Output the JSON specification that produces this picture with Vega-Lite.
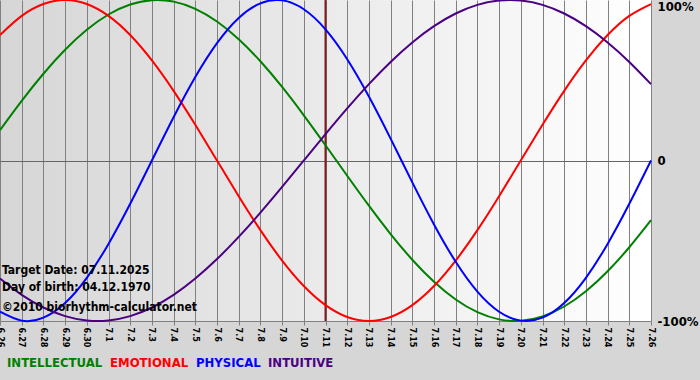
{
  "$schema": "https://vega.github.io/schema/vega-lite/v6.json",
  "width": 651,
  "height": 321,
  "autosize": "none",
  "padding": {"top": 0, "left": 0, "right": 49, "bottom": 59},
  "background": "#d6d6d6",
  "view": {
    "stroke": null,
    "fill": {"gradient": "linear", "x1": 0, "y1": 0, "x2": 1, "y2": 0, "stops": [{"offset": 0, "color": "#d6d6d6"}, {"offset": 1, "color": "#ffffff"}]}
  },
  "config": {
    "font": "DejaVu Sans Condensed",
    "axis": {"title": null}
  },
  "data": {"values": [
    {"day": "6.26", "INTELLECTUAL": 0.1893, "EMOTIONAL": 0.7818, "PHYSICAL": -0.9423, "INTUITIVE": -0.7357},
    {"day": "6.27", "INTELLECTUAL": 0.3717, "EMOTIONAL": 0.9010, "PHYSICAL": -0.9977, "INTUITIVE": -0.8372},
    {"day": "6.28", "INTELLECTUAL": 0.5406, "EMOTIONAL": 0.9749, "PHYSICAL": -0.9791, "INTUITIVE": -0.9158},
    {"day": "6.29", "INTELLECTUAL": 0.6901, "EMOTIONAL": 1.0, "PHYSICAL": -0.8879, "INTUITIVE": -0.9694},
    {"day": "6.30", "INTELLECTUAL": 0.8146, "EMOTIONAL": 0.9749, "PHYSICAL": -0.7308, "INTUITIVE": -0.9966},
    {"day": "7.1", "INTELLECTUAL": 0.9096, "EMOTIONAL": 0.9010, "PHYSICAL": -0.5196, "INTUITIVE": -0.9966},
    {"day": "7.2", "INTELLECTUAL": 0.9718, "EMOTIONAL": 0.7818, "PHYSICAL": -0.2698, "INTUITIVE": -0.9694},
    {"day": "7.3", "INTELLECTUAL": 0.9989, "EMOTIONAL": 0.6235, "PHYSICAL": 0.0, "INTUITIVE": -0.9158},
    {"day": "7.4", "INTELLECTUAL": 0.9898, "EMOTIONAL": 0.4339, "PHYSICAL": 0.2698, "INTUITIVE": -0.8372},
    {"day": "7.5", "INTELLECTUAL": 0.9450, "EMOTIONAL": 0.2225, "PHYSICAL": 0.5196, "INTUITIVE": -0.7357},
    {"day": "7.6", "INTELLECTUAL": 0.8660, "EMOTIONAL": 0.0, "PHYSICAL": 0.7308, "INTUITIVE": -0.6142},
    {"day": "7.7", "INTELLECTUAL": 0.7557, "EMOTIONAL": -0.2225, "PHYSICAL": 0.8879, "INTUITIVE": -0.4759},
    {"day": "7.8", "INTELLECTUAL": 0.6182, "EMOTIONAL": -0.4339, "PHYSICAL": 0.9791, "INTUITIVE": -0.3247},
    {"day": "7.9", "INTELLECTUAL": 0.4582, "EMOTIONAL": -0.6235, "PHYSICAL": 0.9977, "INTUITIVE": -0.1646},
    {"day": "7.10", "INTELLECTUAL": 0.2817, "EMOTIONAL": -0.7818, "PHYSICAL": 0.9423, "INTUITIVE": 0.0},
    {"day": "7.11", "INTELLECTUAL": 0.0951, "EMOTIONAL": -0.9010, "PHYSICAL": 0.8170, "INTUITIVE": 0.1646},
    {"day": "7.12", "INTELLECTUAL": -0.0951, "EMOTIONAL": -0.9749, "PHYSICAL": 0.6311, "INTUITIVE": 0.3247},
    {"day": "7.13", "INTELLECTUAL": -0.2817, "EMOTIONAL": -1.0, "PHYSICAL": 0.3984, "INTUITIVE": 0.4759},
    {"day": "7.14", "INTELLECTUAL": -0.4582, "EMOTIONAL": -0.9749, "PHYSICAL": 0.1362, "INTUITIVE": 0.6142},
    {"day": "7.15", "INTELLECTUAL": -0.6182, "EMOTIONAL": -0.9010, "PHYSICAL": -0.1362, "INTUITIVE": 0.7357},
    {"day": "7.16", "INTELLECTUAL": -0.7557, "EMOTIONAL": -0.7818, "PHYSICAL": -0.3984, "INTUITIVE": 0.8372},
    {"day": "7.17", "INTELLECTUAL": -0.8660, "EMOTIONAL": -0.6235, "PHYSICAL": -0.6311, "INTUITIVE": 0.9158},
    {"day": "7.18", "INTELLECTUAL": -0.9450, "EMOTIONAL": -0.4339, "PHYSICAL": -0.8170, "INTUITIVE": 0.9694},
    {"day": "7.19", "INTELLECTUAL": -0.9898, "EMOTIONAL": -0.2225, "PHYSICAL": -0.9423, "INTUITIVE": 0.9966},
    {"day": "7.20", "INTELLECTUAL": -0.9989, "EMOTIONAL": 0.0, "PHYSICAL": -0.9977, "INTUITIVE": 0.9966},
    {"day": "7.21", "INTELLECTUAL": -0.9718, "EMOTIONAL": 0.2225, "PHYSICAL": -0.9791, "INTUITIVE": 0.9694},
    {"day": "7.22", "INTELLECTUAL": -0.9096, "EMOTIONAL": 0.4339, "PHYSICAL": -0.8879, "INTUITIVE": 0.9158},
    {"day": "7.23", "INTELLECTUAL": -0.8146, "EMOTIONAL": 0.6235, "PHYSICAL": -0.7308, "INTUITIVE": 0.8372},
    {"day": "7.24", "INTELLECTUAL": -0.6901, "EMOTIONAL": 0.7818, "PHYSICAL": -0.5196, "INTUITIVE": 0.7357},
    {"day": "7.25", "INTELLECTUAL": -0.5406, "EMOTIONAL": 0.9010, "PHYSICAL": -0.2698, "INTUITIVE": 0.6142},
    {"day": "7.26", "INTELLECTUAL": -0.3717, "EMOTIONAL": 0.9749, "PHYSICAL": 0.0, "INTUITIVE": 0.4759}
  ]},
  "encoding": {
    "x": {
      "field": "day", "type": "ordinal",
      "scale": {"type": "point", "padding": 0, "domain": ["6.26","6.27","6.28","6.29","6.30","7.1","7.2","7.3","7.4","7.5","7.6","7.7","7.8","7.9","7.10","7.11","7.12","7.13","7.14","7.15","7.16","7.17","7.18","7.19","7.20","7.21","7.22","7.23","7.24","7.25","7.26"]},
      "axis": {
        "labelAngle": 90, "labelFontSize": 9, "labelFontWeight": "bold", "labelColor": "#000000",
        "labelPadding": 2, "tickSize": 4, "tickColor": "#808080", "domainColor": "#808080",
        "grid": true, "gridColor": "#808080", "gridOpacity": 1, "gridWidth": 1
      }
    }
  },
  "layer": [
    {
      "data": {"values": [{}]},
      "mark": {"type": "rule", "color": "#7f1d1d", "strokeWidth": 2},
      "encoding": {"x": {"datum": "7.11"}, "y": null}
    },
    {
      "transform": [{"fold": ["INTELLECTUAL", "EMOTIONAL", "PHYSICAL", "INTUITIVE"], "as": ["rhythm", "value"]}],
      "mark": {"type": "line", "strokeWidth": 2, "interpolate": "natural", "clip": false},
      "encoding": {
        "y": {
          "field": "value", "type": "quantitative",
          "scale": {"domain": [-1, 1], "nice": false, "zero": false},
          "axis": {
            "orient": "right", "values": [-1, 0, 1],
            "labelExpr": "datum.value === 1 ? '100%' : (datum.value === 0 ? '0' : '-100%')",
            "labelFontSize": 13, "labelFontWeight": "bold", "labelColor": "#000000",
            "labelPadding": 6, "ticks": false, "domain": false,
            "labelOffset": {"condition": {"test": "datum.value === 1", "value": 6}, "value": 0},
            "grid": true, "gridColor": "#666666",
            "gridOpacity": {"condition": {"test": "datum.value === 0", "value": 1}, "value": 0}
          }
        },
        "color": {
          "field": "rhythm", "type": "nominal",
          "scale": {"domain": ["INTELLECTUAL", "EMOTIONAL", "PHYSICAL", "INTUITIVE"], "range": ["#008000", "#ff0000", "#0000ff", "#4b0082"]},
          "legend": {
            "orient": "none", "legendX": 0, "legendY": 356, "direction": "horizontal", "title": null,
            "symbolSize": 0, "symbolStrokeWidth": 0, "symbolOpacity": 0, "labelOffset": -6,
            "labelFontSize": 13, "labelFontWeight": "bold", "columnPadding": 0,
            "encode": {"labels": {"update": {"fill": {"scale": "color", "field": "value"}}}}
          }
        }
      }
    },
    {
      "data": {"values": [{}]},
      "mark": {"type": "text", "align": "left", "baseline": "middle", "dx": 2, "fontSize": 12, "fontWeight": "bold", "color": "#000000", "text": "Target Date: 07.11.2025"},
      "encoding": {"x": {"datum": "6.26"}, "y": {"datum": -0.685}}
    },
    {
      "data": {"values": [{}]},
      "mark": {"type": "text", "align": "left", "baseline": "middle", "dx": 2, "fontSize": 12, "fontWeight": "bold", "color": "#000000", "text": "Day of birth: 04.12.1970"},
      "encoding": {"x": {"datum": "6.26"}, "y": {"datum": -0.79}}
    },
    {
      "data": {"values": [{}]},
      "mark": {"type": "text", "align": "left", "baseline": "middle", "dx": 2, "fontSize": 12, "fontWeight": "bold", "color": "#000000", "text": "©2010 biorhythm-calculator.net"},
      "encoding": {"x": {"datum": "6.26"}, "y": {"datum": -0.91}}
    }
  ]
}
